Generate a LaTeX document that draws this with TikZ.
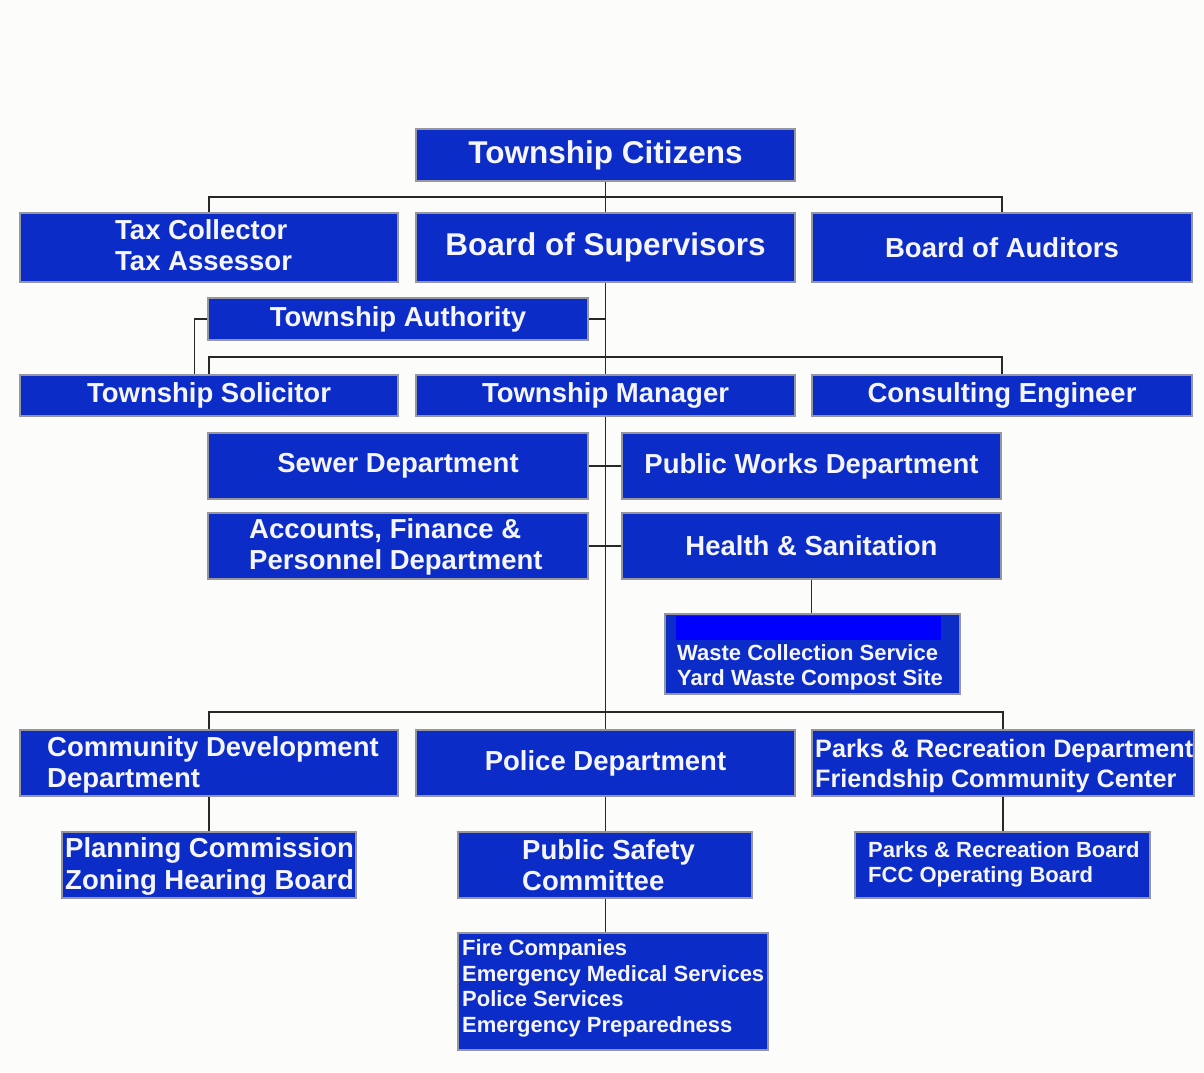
\documentclass[tikz,border=0pt]{standalone}
\usepackage{fontspec}
\setmainfont{Liberation Sans}
\pgfdeclarelayer{bg}
\pgfdeclarelayer{paperlayer}
\pgfsetlayers{paperlayer,bg,main}
\definecolor{boxblue}{RGB}{12,44,200}
\definecolor{boxedge}{RGB}{150,150,160}
\definecolor{barblue}{RGB}{0,0,255}
\definecolor{conncol}{RGB}{40,40,40}
\definecolor{paper}{RGB}{252,252,250}
\definecolor{txtwhite}{RGB}{245,245,255}
\tikzset{
  box/.style={draw=boxedge, line width=1.5pt, fill=boxblue, text=txtwhite, inner sep=0pt, align=center, font=\bfseries\fontsize{27.5}{31}\selectfont},
  txt/.style={text=txtwhite, inner sep=0pt, align=left, anchor=west, font=\bfseries\fontsize{27.5}{31}\selectfont},
  smalltxt/.style={font=\bfseries\fontsize{22}{25.5}\selectfont},
  bigtxt/.style={font=\bfseries\fontsize{31.5}{34}\selectfont},
  conn/.style={draw=conncol, line width=1.5pt},
}
\begin{document}
\begin{tikzpicture}[x=1pt,y=-1pt]
\begin{pgfonlayer}{paperlayer}
\fill[paper] (0,0) rectangle (1204,1072);
\end{pgfonlayer}
\useasboundingbox (0,0) rectangle (1204,1072);

% boxes
\node[box, bigtxt, minimum width=379pt, minimum height=52pt] (tc) at (605.5,155) {Township Citizens};
\node[box, minimum width=378pt, minimum height=69pt] (tax) at (209,247.5) {};
\node[txt] (taxt) at (115,245) {Tax Collector\\Tax Assessor};
\node[box, bigtxt, minimum width=379pt, minimum height=69pt] (bos) at (605.5,247.5) {Board of Supervisors};
\node[box, minimum width=380pt, minimum height=69pt] (boa) at (1002,247.5) {Board of Auditors};
\node[box, minimum width=380pt, minimum height=42pt] (ta) at (398,319) {Township Authority};
\node[box, minimum width=378pt, minimum height=41pt] (sol) at (209,395.5) {Township Solicitor};
\node[box, minimum width=379pt, minimum height=41pt] (mgr) at (605.5,395.5) {Township Manager};
\node[box, minimum width=380pt, minimum height=41pt] (eng) at (1002,395.5) {Consulting Engineer};
\node[box, minimum width=380pt, minimum height=66pt] (sewer) at (398,466) {Sewer Department};
\node[box, minimum width=379pt, minimum height=66pt] (pw) at (811.5,466) {Public Works Department};
\node[box, minimum width=380pt, minimum height=66pt] (acc) at (398,546) {};
\node[txt] (acct) at (249,546.5) {Accounts, Finance \&\\Personnel Department};
\node[box, minimum width=379pt, minimum height=66pt] (hs) at (811.5,546) {Health \& Sanitation};
\node[box, minimum width=295pt, minimum height=80pt] (waste) at (812.5,654) {};
\fill[barblue] (676,616) rectangle (941,640);
\node[txt, smalltxt] (wastet) at (677,667.5) {Waste Collection Service\\Yard Waste Compost Site};
\node[box, minimum width=378pt, minimum height=66pt] (cd) at (209,763) {};
\node[txt] (cdt) at (47,764.5) {Community Development\\Department};
\node[box, minimum width=379pt, minimum height=66pt] (pd) at (605.5,763) {Police Department};
\node[box, minimum width=382pt, minimum height=66pt] (parks) at (1003,763) {};
\node[txt, font=\bfseries\fontsize{25.2}{30}\selectfont] (parkst) at (815,766) {Parks \& Recreation Department\\Friendship Community Center};
\node[box, minimum width=294pt, minimum height=66pt] (plan) at (209,865) {};
\node[txt, font=\bfseries\fontsize{27.5}{32}\selectfont] (plant) at (65,866) {Planning Commission\\Zoning Hearing Board};
\node[box, minimum width=294pt, minimum height=66pt] (psc) at (605,865) {};
\node[txt] (psct) at (522,865.5) {Public Safety\\Committee};
\node[box, minimum width=295pt, minimum height=66pt] (prb) at (1002.5,865) {};
\node[txt, smalltxt] (prbt) at (868,864.5) {Parks \& Recreation Board\\FCC Operating Board};
\node[box, minimum width=310pt, minimum height=117pt] (fire) at (613,991.5) {};
\node[txt, smalltxt] (firet) at (462,988.5) {Fire Companies\\Emergency Medical Services\\Police Services\\Emergency Preparedness};

% junction points
\coordinate (j1) at (605.5,197);
\coordinate (j2) at (605.5,357);
\coordinate (j3) at (605.5,712);

\begin{pgfonlayer}{bg}
\draw[conn] (tc.south) -- (pd.north);
\draw[conn] (tax.north) |- (j1) -| (boa.north);
\draw[conn] (ta.east) -- (ta.east -| tc.south);
\draw[conn] (ta.west) -- ++(-13,0) coordinate (tal) -- (tal |- sol.north);
\draw[conn] (sol.north) |- (j2) -| (eng.north);
\draw[conn] (sewer.east) -- (pw.west);
\draw[conn] (acc.east) -- (hs.west);
\draw[conn] (hs.south) -- (hs.south |- waste.north);
\draw[conn] (cd.north) |- (j3) -| (parks.north);
\draw[conn] (cd.south) -- (plan.north);
\draw[conn] (pd.south) -- (pd.south |- psc.north);
\draw[conn] (psc.south -| pd.south) -- (pd.south |- fire.north);
\draw[conn] (parks.south) -- (parks.south |- prb.north);
\end{pgfonlayer}
\end{tikzpicture}
\end{document}
